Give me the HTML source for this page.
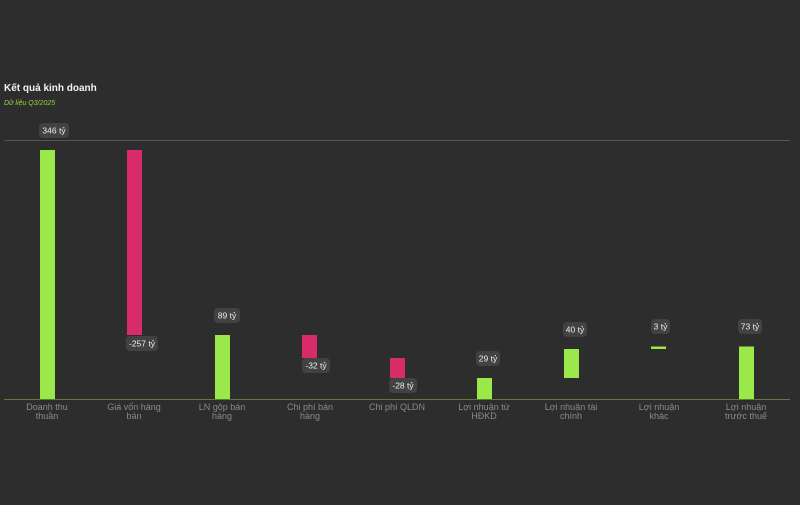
<!DOCTYPE html>
<html><head><meta charset="utf-8"><style>
body{margin:0;background:#2d2d2d;width:800px;height:500px;overflow:hidden;font-family:"Liberation Sans",sans-serif;}
</style></head><body>
<svg width="800" height="500" xmlns="http://www.w3.org/2000/svg" font-family="Liberation Sans, sans-serif">
<rect width="800" height="500" fill="#2d2d2d"/>
<text x="4" y="91" fill="#f2f2f2" font-size="10" font-weight="bold">Kết quả kinh doanh</text>
<text x="4" y="105" fill="#8fd642" font-size="7" font-style="italic">Dữ liệu Q3/2025</text>
<line x1="4" y1="140.5" x2="790" y2="140.5" stroke="#555" stroke-width="1"/>
<g>
<rect x="40" y="150" width="15" height="249" fill="#9be84a"/>
<rect x="127" y="150" width="15" height="185" fill="#d92a6a"/>
<rect x="215" y="335" width="15" height="64" fill="#9be84a"/>
<rect x="302" y="335" width="15" height="23" fill="#d92a6a"/>
<rect x="390" y="358" width="15" height="20" fill="#d92a6a"/>
<rect x="477" y="378" width="15" height="21" fill="#9be84a"/>
<rect x="564" y="349" width="15" height="29" fill="#9be84a"/>
<rect x="651" y="346.5" width="15" height="2.5" fill="#9be84a"/>
<rect x="739" y="346.5" width="15" height="52.5" fill="#9be84a"/>
</g>
<line x1="4" y1="399.5" x2="790" y2="399.5" stroke="#5f7a3a" stroke-width="1"/>
<g font-size="8.5" fill="#eee" text-anchor="middle">
<rect x="39" y="123" width="30" height="15" rx="4" fill="#424242"/><text x="54" y="133.5">346 tỷ</text>
<rect x="126" y="336" width="32" height="15" rx="4" fill="#424242"/><text x="142" y="346.5">-257 tỷ</text>
<rect x="214" y="308" width="26" height="15" rx="4" fill="#424242"/><text x="227" y="318.5">89 tỷ</text>
<rect x="302" y="358" width="28" height="15" rx="4" fill="#424242"/><text x="316" y="368.5">-32 tỷ</text>
<rect x="389" y="378" width="28" height="15" rx="4" fill="#424242"/><text x="403" y="388.5">-28 tỷ</text>
<rect x="476" y="351" width="24" height="15" rx="4" fill="#424242"/><text x="488" y="361.5">29 tỷ</text>
<rect x="563" y="322" width="24" height="15" rx="4" fill="#424242"/><text x="575" y="332.5">40 tỷ</text>
<rect x="651" y="319" width="19" height="15" rx="4" fill="#424242"/><text x="660.5" y="329.5">3 tỷ</text>
<rect x="738" y="319" width="24" height="15" rx="4" fill="#424242"/><text x="750" y="329.5">73 tỷ</text>
</g>
<g font-size="9" fill="#8a8a8a" text-anchor="middle">
<text x="47" y="410">Doanh thu</text><text x="47" y="419">thuần</text>
<text x="134" y="410">Giá vốn hàng</text><text x="134" y="419">bán</text>
<text x="222" y="410">LN gộp bán</text><text x="222" y="419">hàng</text>
<text x="310" y="410">Chi phí bán</text><text x="310" y="419">hàng</text>
<text x="397" y="410">Chi phí QLDN</text>
<text x="484" y="410">Lợi nhuận từ</text><text x="484" y="419">HĐKD</text>
<text x="571" y="410">Lợi nhuận tài</text><text x="571" y="419">chính</text>
<text x="659" y="410">Lợi nhuận</text><text x="659" y="419">khác</text>
<text x="746" y="410">Lợi nhuận</text><text x="746" y="419">trước thuế</text>
</g>
</svg>
</body></html>
